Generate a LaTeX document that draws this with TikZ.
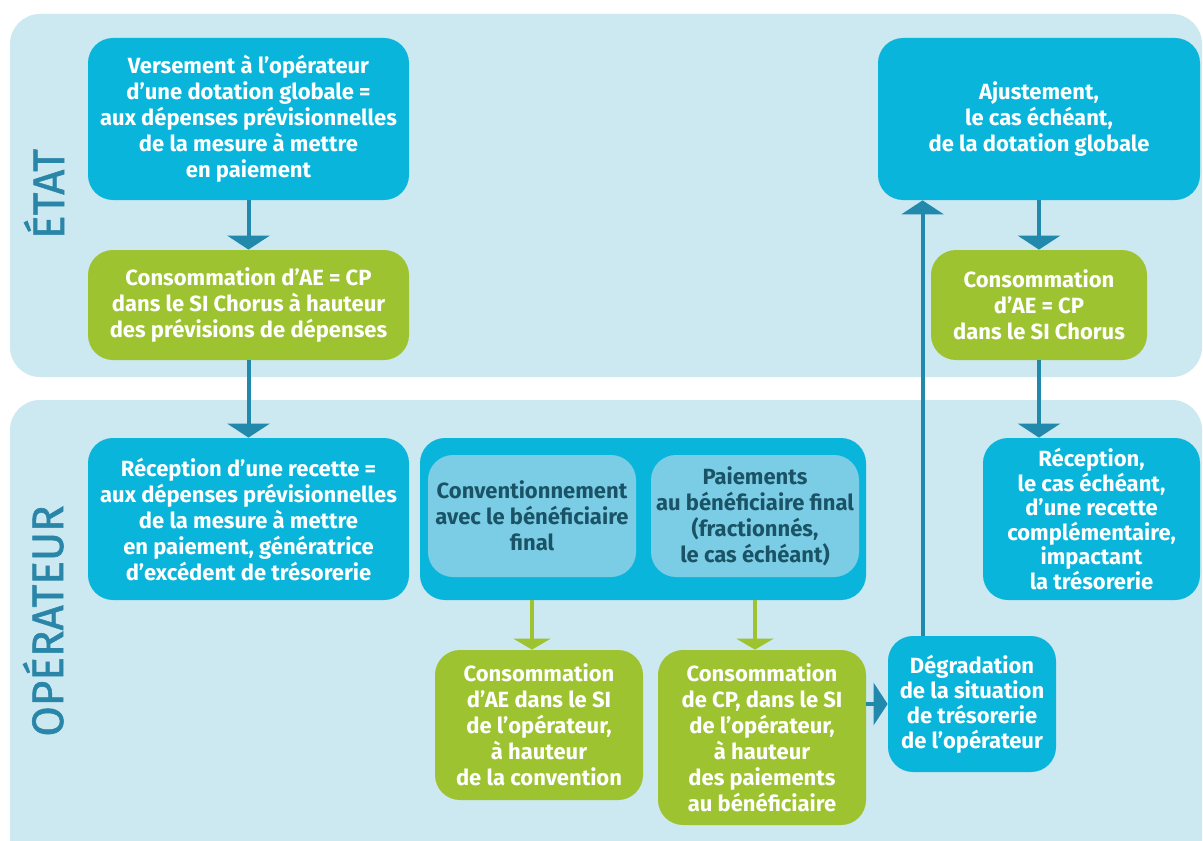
\documentclass[tikz,border=0pt]{standalone}
\usepackage{fontspec}
\setmainfont{Fira Sans}
\newfontfamily\labelfont{Fira Sans}[FakeBold=1.2]
\usetikzlibrary{arrows.meta}
\definecolor{panel}{HTML}{CCE8F0}
\definecolor{bluebox}{HTML}{09B5DA}
\definecolor{greenbox}{HTML}{9DC331}
\definecolor{arrowc}{HTML}{2189AB}
\definecolor{labelc}{HTML}{2A86A9}
\definecolor{innerbox}{HTML}{7BCDE6}
\definecolor{innertext}{HTML}{1A5366}
\tikzset{
  box/.style={rounded corners=12.5pt, inner sep=0pt, align=center, text=white,
    font=\fontsize{11}{13}\selectfont\bfseries},
  bluen/.style={box, fill=bluebox},
  greenn/.style={box, fill=greenbox},
  innern/.style={box, fill=innerbox, text=innertext},
  arr/.style={draw=arrowc, line width=2pt, -{Triangle[width=21pt,length=7pt]}},
  garr/.style={draw=greenbox, line width=1.6pt, -{Triangle[width=18.5pt,length=5.5pt]}},
  sidelabel/.style={rotate=90, anchor=base, text=labelc, font=\labelfont\fontsize{22}{24}\selectfont},
}
\begin{document}
\begin{tikzpicture}[x=0.5pt,y=-0.5pt]
\useasboundingbox (0,0) rectangle (1203,840);
\clip (0,0) rectangle (1203,840);
% panels
\fill[panel, rounded corners=15pt] (10,14) rectangle (1202,377);
\fill[panel, rounded corners=15pt] (10,400) rectangle (1202,870);
\node[sidelabel] (etat) at (64,194) {ÉTAT};
\node[sidelabel] (oper) at (63,621) {OPÉRATEUR};
% nodes
\node[bluen, minimum width=160.5pt, minimum height=81pt] (v1) at (248.5,119)
  {Versement à l’opérateur\\d’une dotation globale =\\aux dépenses prévisionnelles\\de la mesure à mettre\\en paiement};
\node[greenn, minimum width=160.5pt, minimum height=55pt] (c1) at (248.5,305)
  {Consommation d’AE = CP\\dans le SI Chorus à hauteur\\des prévisions de dépenses};
\node[bluen, minimum width=160.5pt, minimum height=81pt] (r1) at (248.5,519)
  {Réception d’une recette =\\aux dépenses prévisionnelles\\de la mesure à mettre\\en paiement, génératrice\\d’excédent de trésorerie};
\node[bluen, minimum width=223pt, minimum height=81pt] (cont) at (643,519) {};
\node[innern, minimum width=104pt, minimum height=61pt] (in1) at (532,516)
  {Conventionnement\\avec le bénéficiaire\\final};
\node[innern, minimum width=104pt, minimum height=61pt] (in2) at (755,516)
  {Paiements\\au bénéficiaire final\\(fractionnés,\\le cas échéant)};
\node[greenn, minimum width=104pt, minimum height=75pt] (c2) at (539,725)
  {Consommation\\d’AE dans le SI\\de l’opérateur,\\à hauteur\\de la convention};
\node[greenn, minimum width=104pt, minimum height=87.5pt] (c3) at (762,737.5)
  {Consommation\\de CP, dans le SI\\de l’opérateur,\\à hauteur\\des paiements\\au bénéficiaire};
\node[bluen, minimum width=84pt, minimum height=68pt, font=\fontsize{11}{12.5}\selectfont\bfseries] (d1) at (972,704)
  {Dégradation\\de la situation\\de trésorerie\\de l’opérateur};
\node[bluen, minimum width=161pt, minimum height=81pt] (a1) at (1039,119)
  {Ajustement,\\le cas échéant,\\de la dotation globale};
\node[greenn, minimum width=108pt, minimum height=55pt] (c4) at (1039,305)
  {Consommation\\d’AE = CP\\dans le SI Chorus};
\node[bluen, minimum width=108.5pt, minimum height=81pt, font=\fontsize{11}{12.3}\selectfont\bfseries] (r2) at (1091.5,519)
  {Réception,\\le cas échéant,\\d’une recette\\complémentaire,\\impactant\\la trésorerie};
% connectors
\draw[arr] (v1.south) -- (c1.north);
\draw[arr] (c1.south) -- (r1.north);
\draw[garr] (in1.center |- cont.south) -- (in1.center |- c2.north);
\draw[garr] (in2.center |- cont.south) -- (in2.center |- c3.north);
\draw[arr] (c3.east |- d1.west) -- (d1.west);
\coordinate (dtop) at ([xshift=17.5pt]d1.north west);
\draw[arr] (dtop) -- (dtop |- a1.south);
\draw[arr] (a1.south) -- (c4.north);
\draw[arr] (c4.south) -- (c4.south |- r2.north);
\end{tikzpicture}
\end{document}
